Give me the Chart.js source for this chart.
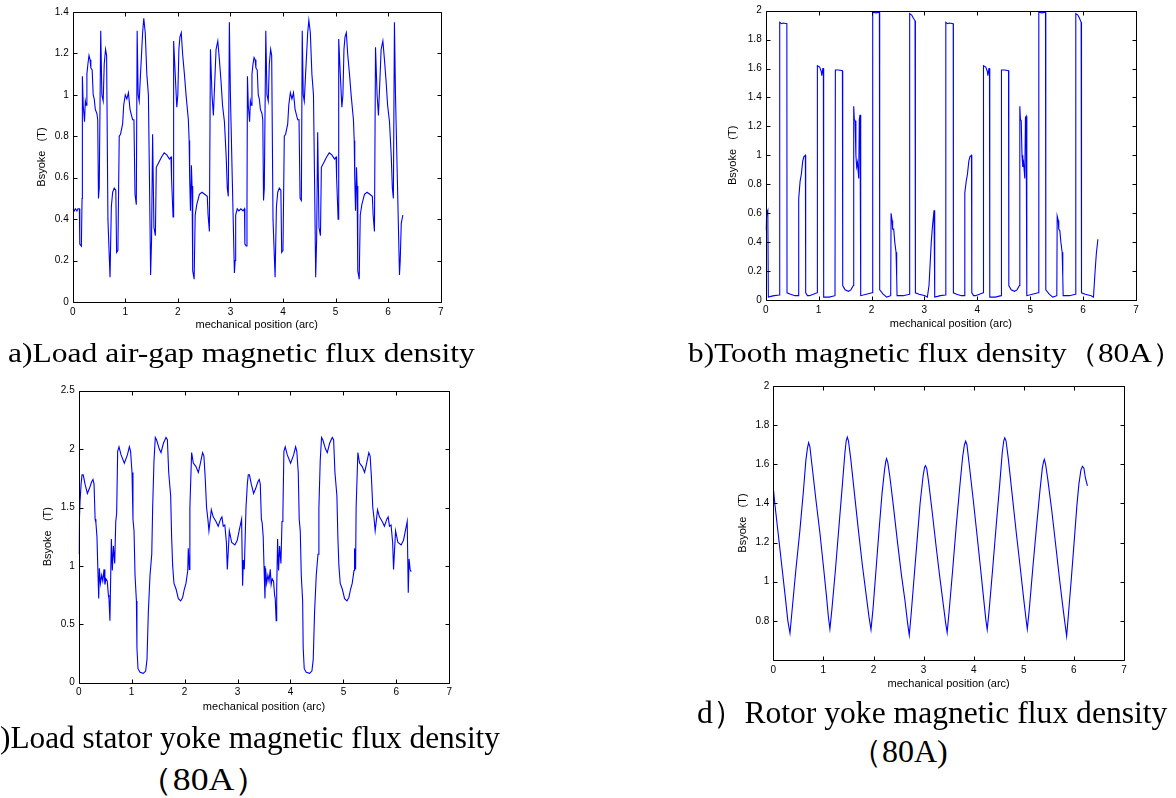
<!DOCTYPE html>
<html>
<head>
<meta charset="utf-8">
<script src="https://cdn.jsdelivr.net/npm/chart.js@4.4.1/dist/chart.umd.min.js"></script>
<style>
  html, body { margin: 0; padding: 0; background: #fff; width: 1176px; height: 798px; overflow: hidden; position: relative; }
  canvas { position: absolute; }
  .cap { position: absolute; white-space: nowrap; font-family: "Liberation Serif", "Times New Roman", serif; color: #000; transform-origin: 0 0; }
  .pre { position: absolute; right: 100%; top: 0; }
</style>
</head>
<body>
<canvas id="chartA" width="460" height="340" style="left:0;top:0"></canvas>
<canvas id="chartB" width="456" height="340" style="left:720px;top:0"></canvas>
<canvas id="chartC" width="470" height="350" style="left:0;top:370px"></canvas>
<canvas id="chartD" width="456" height="330" style="left:720px;top:370px"></canvas>

<div class="cap" data-l="8" data-r="475" data-b="363" data-f="27">a)Load air-gap magnetic flux density</div>
<div class="cap" data-l="688" data-r="1183" data-b="363" data-f="27">b)Tooth magnetic flux density（80A）</div>
<div class="cap" data-l="0" data-r="500" data-b="748" data-f="32"><span class="pre">c</span>)Load stator yoke magnetic flux density</div>
<div class="cap" data-l="137" data-r="270" data-b="790" data-f="32">（80A）</div>
<div class="cap" data-l="697" data-r="1167" data-b="723" data-f="32">d）Rotor yoke magnetic flux density</div>
<div class="cap" data-l="850" data-r="948" data-b="762" data-f="32">（80A)</div>

<script>
// ---- 数据 ----
const xTitle = 'mechanical position (arc)';
const yTitle = 'Bsyoke   (T)';
const xTicks = [0, 1, 2, 3, 4, 5, 6, 7];

// a) 负载气隙磁密
const airGapTicks = [0, 0.2, 0.4, 0.6, 0.8, 1, 1.2, 1.4];
const airGap = [
  [0,0.45],[0.03,0.44],[0.05,0.45],[0.08,0.44],[0.1,0.45],[0.127,0.45],[0.135,0.28],[0.165,0.27],[0.178,0.5],[0.184,1.09],
  [0.2,0.95],[0.225,0.87],[0.24,0.97],[0.255,0.95],[0.27,1.1],[0.29,1.15],[0.31,1.19],[0.33,1.17],[0.345,1.13],[0.37,1.12],
  [0.39,1.0],[0.41,0.98],[0.43,0.93],[0.46,0.91],[0.476,0.88],[0.49,0.5],[0.505,0.55],[0.533,1.31],[0.555,1.0],[0.58,0.97],
  [0.6,1.15],[0.625,1.22],[0.645,1.19],[0.67,0.4],[0.71,0.12],[0.735,0.46],[0.76,0.53],[0.79,0.55],[0.82,0.54],[0.835,0.24],
  [0.86,0.25],[0.885,0.8],[0.91,0.81],[0.95,0.86],[0.97,0.95],[1.0,1.0],[1.03,0.98],[1.06,1.01],[1.09,0.93],[1.12,0.9],
  [1.14,0.88],[1.165,0.88],[1.185,0.52],[1.21,0.47],[1.226,1.31],[1.245,1.0],[1.265,0.97],[1.29,1.1],[1.33,1.3],[1.352,1.37],
  [1.38,1.3],[1.41,1.1],[1.44,1.0],[1.46,0.6],[1.482,0.13],[1.5,0.3],[1.52,0.81],[1.545,0.36],[1.573,0.32],[1.59,0.65],
  [1.63,0.67],[1.69,0.7],[1.74,0.72],[1.79,0.71],[1.84,0.69],[1.87,0.7],[1.88,0.6],[1.909,0.41],[1.92,1.26],[1.95,1.1],
  [1.98,0.94],[2.0,1.0],[2.02,1.22],[2.04,1.28],[2.065,1.3],[2.09,1.2],[2.125,1.1],[2.156,1.0],[2.2,0.88],[2.215,0.78],
  [2.225,0.6],[2.24,0.44],[2.258,0.66],[2.27,0.56],[2.283,0.15],[2.31,0.11],[2.33,0.42],[2.36,0.47],[2.41,0.52],[2.46,0.53],
  [2.51,0.52],[2.56,0.51],[2.575,0.42],[2.6,0.34],[2.62,1.22],[2.65,1.0],[2.676,0.9],[2.7,1.05],[2.727,1.22],[2.76,1.26],
  [2.79,1.17],[2.82,1.07],[2.85,0.95],[2.886,0.87],[2.92,0.7],[2.94,0.55],[2.96,0.51],[2.98,1.35],[3.0,1.0],[3.035,0.6],
  [3.076,0.14],[3.09,0.2],[3.1,0.42],[3.13,0.45],[3.16,0.44],[3.2,0.45],[3.24,0.44],[3.268,0.45],
  [3.275,0.28],[3.3,0.27],[3.315,0.45],[3.324,1.09],[3.34,0.95],[3.365,0.87],[3.38,0.97],[3.395,0.95],[3.41,1.1],[3.43,1.15],
  [3.45,1.18],[3.47,1.17],[3.485,1.13],[3.51,1.12],[3.53,1.0],[3.55,0.98],[3.57,0.93],[3.6,0.91],[3.616,0.88],[3.63,0.49],
  [3.645,0.55],[3.673,1.31],[3.695,1.0],[3.72,0.97],[3.74,1.15],[3.765,1.22],[3.785,1.19],[3.81,0.4],[3.85,0.12],[3.875,0.46],
  [3.9,0.53],[3.93,0.55],[3.96,0.54],[3.975,0.24],[4.0,0.25],[4.025,0.8],[4.05,0.81],[4.09,0.86],[4.11,0.95],[4.14,1.01],
  [4.17,0.98],[4.2,1.01],[4.23,0.93],[4.26,0.9],[4.28,0.88],[4.305,0.88],[4.325,0.5],[4.35,0.49],[4.366,1.31],[4.385,1.0],
  [4.405,0.97],[4.43,1.1],[4.47,1.3],[4.492,1.36],[4.52,1.3],[4.55,1.1],[4.58,1.0],[4.6,0.6],[4.622,0.12],[4.64,0.3],
  [4.66,0.82],[4.685,0.36],[4.713,0.32],[4.73,0.65],[4.77,0.67],[4.83,0.7],[4.88,0.72],[4.93,0.71],[4.98,0.69],[5.01,0.7],
  [5.02,0.6],[5.049,0.4],[5.06,1.27],[5.09,1.1],[5.12,0.94],[5.14,1.0],[5.16,1.22],[5.18,1.28],[5.205,1.3],[5.23,1.2],
  [5.265,1.1],[5.296,1.0],[5.34,0.88],[5.355,0.78],[5.365,0.6],[5.38,0.44],[5.398,0.65],[5.41,0.56],[5.423,0.15],[5.45,0.11],
  [5.47,0.42],[5.5,0.47],[5.55,0.52],[5.6,0.53],[5.65,0.52],[5.7,0.51],[5.715,0.42],[5.74,0.34],[5.76,1.23],[5.79,1.0],
  [5.816,0.9],[5.84,1.05],[5.867,1.22],[5.9,1.26],[5.93,1.17],[5.96,1.07],[5.99,0.95],[6.026,0.87],[6.06,0.7],[6.08,0.55],
  [6.1,0.5],[6.12,1.35],[6.14,1.0],[6.175,0.6],[6.216,0.13],[6.23,0.2],[6.25,0.38],[6.28,0.42]
];

// b) 齿部磁密（80A）
const toothTicks = [0, 0.2, 0.4, 0.6, 0.8, 1, 1.2, 1.4, 1.6, 1.8, 2];
const tooth = [
  [0,0.48],[0.02,0.6],[0.04,0.62],[0.05,0.02],[0.1,0.025],[0.16,0.03],[0.26,0.035],[0.265,1.92],[0.3,1.91],[0.33,1.915],
  [0.4,1.91],[0.403,0.05],[0.47,0.04],[0.555,0.03],[0.62,0.03],[0.624,0.7],[0.65,0.82],[0.674,0.87],[0.7,0.96],[0.72,0.99],
  [0.75,1.0],[0.756,0.05],[0.79,0.03],[0.825,0.03],[0.9,0.04],[0.97,0.05],[0.977,1.62],[1.02,1.61],[1.05,1.58],[1.06,1.55],
  [1.08,1.6],[1.09,1.6],[1.096,0.02],[1.2,0.02],[1.31,0.03],[1.317,1.59],[1.38,1.59],[1.45,1.585],[1.456,0.1],[1.5,0.07],
  [1.563,0.06],[1.61,0.07],[1.657,0.1],[1.664,1.34],[1.675,1.25],[1.69,1.24],[1.705,1.0],[1.72,0.92],[1.735,0.95],[1.75,0.88],
  [1.758,0.84],[1.77,1.25],[1.783,1.28],[1.796,0.03],[1.9,0.04],[2.01,0.05],[2.023,1.99],[2.08,1.985],[2.149,1.99],[2.155,0.07],
  [2.22,0.04],[2.287,0.02],[2.363,0.03],[2.37,0.6],[2.39,0.55],[2.4,0.49],[2.42,0.49],[2.44,0.4],[2.464,0.33],[2.476,0.16],
  [2.483,0.03],[2.6,0.03],[2.716,0.04],[2.722,1.98],[2.76,1.97],[2.79,1.95],[2.823,1.93],[2.83,0.05],[2.9,0.04],[3.012,0.03],
  [3.056,0.02],[3.087,0.1],[3.13,0.4],[3.15,0.5],[3.182,0.62],[3.195,0.02],[3.25,0.025],[3.3,0.03],[3.4,0.035],[3.405,1.92],
  [3.44,1.91],[3.47,1.915],[3.545,1.91],[3.548,0.05],[3.61,0.04],[3.7,0.03],[3.76,0.03],[3.764,0.74],[3.79,0.82],[3.814,0.87],
  [3.84,0.96],[3.86,0.99],[3.89,1.0],[3.896,0.05],[3.93,0.03],[3.965,0.03],[4.04,0.04],[4.11,0.05],[4.117,1.62],[4.16,1.61],
  [4.19,1.58],[4.2,1.55],[4.22,1.6],[4.23,1.6],[4.236,0.02],[4.34,0.02],[4.45,0.03],[4.457,1.59],[4.52,1.59],[4.59,1.585],
  [4.596,0.1],[4.64,0.07],[4.703,0.06],[4.75,0.07],[4.797,0.1],[4.804,1.34],[4.815,1.25],[4.83,1.24],[4.845,1.0],[4.86,0.92],
  [4.875,0.95],[4.89,0.88],[4.898,0.84],[4.91,1.26],[4.923,1.27],[4.936,0.03],[5.04,0.04],[5.15,0.05],[5.163,1.99],[5.22,1.985],
  [5.289,1.99],[5.295,0.07],[5.36,0.04],[5.427,0.02],[5.503,0.03],[5.51,0.58],[5.53,0.55],[5.54,0.49],[5.56,0.48],[5.58,0.4],
  [5.604,0.33],[5.616,0.16],[5.623,0.03],[5.74,0.03],[5.856,0.04],[5.862,1.98],[5.9,1.97],[5.93,1.95],[5.963,1.92],[5.97,0.05],
  [6.04,0.04],[6.152,0.03],[6.196,0.02],[6.227,0.2],[6.25,0.32],[6.28,0.42]
];

// c) 负载定子轭磁密（80A）
const statorTicks = [0, 0.5, 1, 1.5, 2, 2.5];
const stator = [
  [0,1.1],[0.01,1.35],[0.025,1.55],[0.045,1.7],[0.063,1.78],[0.085,1.78],[0.12,1.7],[0.164,1.62],[0.2,1.66],[0.245,1.72],
  [0.27,1.74],[0.29,1.7],[0.31,1.4],[0.325,1.37],[0.345,1.25],[0.36,1.0],[0.378,0.72],[0.39,0.98],[0.41,0.85],[0.434,0.92],
  [0.455,0.87],[0.478,0.97],[0.495,0.84],[0.515,0.89],[0.54,0.87],[0.56,0.75],[0.572,0.72],[0.59,0.53],[0.6,0.8],[0.617,1.23],
  [0.635,0.96],[0.655,1.17],[0.68,1.02],[0.7,1.38],[0.717,1.45],[0.736,1.98],[0.761,2.02],[0.8,1.95],[0.862,1.88],[0.92,1.95],
  [0.957,2.02],[0.98,1.98],[1.007,1.8],[1.025,1.4],[1.045,1.3],[1.064,0.92],[1.09,0.7],[1.1,0.3],[1.12,0.12],[1.158,0.09],
  [1.22,0.08],[1.265,0.1],[1.29,0.2],[1.315,0.6],[1.347,0.92],[1.38,1.1],[1.397,1.5],[1.422,1.9],[1.447,2.1],[1.47,2.08],
  [1.523,2.0],[1.555,1.97],[1.6,2.05],[1.649,2.1],[1.675,2.08],[1.7,1.8],[1.737,1.6],[1.755,1.25],[1.775,1.0],[1.8,0.85],
  [1.84,0.8],[1.882,0.72],[1.926,0.7],[1.963,0.73],[1.995,0.8],[2.026,0.85],[2.06,0.96],[2.07,1.15],[2.09,0.97],[2.1,1.5],
  [2.133,1.97],[2.165,1.88],[2.215,1.85],[2.26,1.8],[2.29,1.86],[2.34,1.97],[2.365,1.94],[2.39,1.75],[2.415,1.5],[2.44,1.4],
  [2.46,1.3],[2.505,1.48],[2.54,1.42],[2.593,1.38],[2.635,1.34],[2.68,1.4],[2.705,1.42],[2.73,1.34],[2.76,1.35],[2.79,1.2],
  [2.807,0.97],[2.845,1.3],[2.89,1.2],[2.95,1.18],[2.995,1.22],[3.03,1.3],[3.077,1.4],[3.096,0.83],[3.11,1.05],[3.128,0.97],
  [3.16,1.5],[3.185,1.7],[3.203,1.78],[3.225,1.78],[3.26,1.7],[3.304,1.62],[3.34,1.66],[3.385,1.72],[3.41,1.74],[3.43,1.7],
  [3.45,1.4],[3.465,1.37],[3.485,1.25],[3.5,1.0],[3.518,0.72],[3.53,0.98],[3.55,0.85],[3.574,0.92],[3.595,0.87],[3.618,0.97],
  [3.635,0.84],[3.655,0.89],[3.68,0.87],[3.7,0.75],[3.712,0.72],[3.73,0.53],[3.74,0.8],[3.757,1.23],[3.775,0.96],[3.795,1.17],
  [3.82,1.02],[3.84,1.38],[3.857,1.45],[3.876,1.98],[3.901,2.02],[3.94,1.95],[4.002,1.88],[4.06,1.95],[4.097,2.02],[4.12,1.98],
  [4.147,1.8],[4.165,1.4],[4.185,1.3],[4.204,0.92],[4.23,0.7],[4.24,0.3],[4.26,0.12],[4.298,0.09],[4.36,0.08],[4.405,0.1],
  [4.43,0.2],[4.455,0.6],[4.487,0.92],[4.52,1.1],[4.537,1.5],[4.562,1.9],[4.587,2.1],[4.61,2.08],[4.663,2.0],[4.695,1.97],
  [4.74,2.05],[4.789,2.1],[4.815,2.08],[4.84,1.8],[4.877,1.6],[4.895,1.25],[4.915,1.0],[4.94,0.85],[4.98,0.8],[5.022,0.72],
  [5.066,0.7],[5.103,0.73],[5.135,0.8],[5.166,0.85],[5.2,0.96],[5.21,1.15],[5.23,0.97],[5.24,1.5],[5.273,1.97],[5.305,1.88],
  [5.355,1.85],[5.4,1.8],[5.43,1.86],[5.48,1.97],[5.505,1.94],[5.53,1.75],[5.555,1.5],[5.58,1.4],[5.6,1.3],[5.645,1.48],
  [5.68,1.42],[5.733,1.38],[5.775,1.34],[5.82,1.4],[5.845,1.42],[5.87,1.34],[5.9,1.35],[5.93,1.2],[5.947,0.97],[5.985,1.3],
  [6.03,1.2],[6.09,1.18],[6.135,1.22],[6.17,1.3],[6.205,1.38],[6.225,0.77],[6.24,1.06],[6.26,0.97],[6.28,0.95]
];

// d) 转子轭磁密（80A）
const rotorTicks = [0.8, 1, 1.2, 1.4, 1.6, 1.8, 2];
const rotor = [
  [0,1.48],[0.03,1.4],[0.1,1.24],[0.17,1.08],[0.24,0.92],[0.29,0.8],[0.333,0.737],
  [0.37,0.84],[0.45,1.06],[0.53,1.26],[0.6,1.46],[0.65,1.62],[0.68,1.68],[0.705,1.71],[0.73,1.69],[0.77,1.6],
  [0.85,1.42],[0.93,1.25],[1.0,1.08],[1.06,0.93],[1.1,0.82],[1.13,0.758],
  [1.17,0.86],[1.24,1.06],[1.31,1.28],[1.38,1.5],[1.43,1.66],[1.455,1.72],[1.477,1.739],[1.5,1.72],[1.545,1.63],
  [1.62,1.45],[1.7,1.26],[1.78,1.08],[1.85,0.94],[1.91,0.82],[1.95,0.755],
  [1.99,0.86],[2.05,1.06],[2.11,1.26],[2.17,1.45],[2.22,1.57],[2.245,1.615],[2.26,1.629],[2.285,1.61],[2.33,1.53],
  [2.4,1.38],[2.48,1.2],[2.56,1.03],[2.63,0.9],[2.68,0.79],[2.714,0.727],
  [2.75,0.83],[2.81,1.02],[2.87,1.21],[2.93,1.4],[2.99,1.54],[3.02,1.585],[3.04,1.593],[3.065,1.575],[3.1,1.51],
  [3.17,1.36],[3.25,1.18],[3.32,1.03],[3.39,0.89],[3.44,0.79],[3.47,0.74],
  [3.51,0.85],[3.58,1.06],[3.65,1.28],[3.72,1.48],[3.78,1.64],[3.815,1.7],[3.84,1.718],[3.865,1.7],[3.91,1.6],
  [3.99,1.42],[4.07,1.23],[4.14,1.06],[4.2,0.91],[4.24,0.81],[4.27,0.755],
  [4.31,0.86],[4.38,1.07],[4.45,1.29],[4.52,1.5],[4.57,1.66],[4.6,1.72],[4.62,1.735],[4.645,1.72],[4.69,1.63],
  [4.77,1.44],[4.85,1.25],[4.93,1.07],[4.99,0.93],[5.04,0.82],[5.07,0.758],
  [5.11,0.86],[5.18,1.07],[5.25,1.27],[5.32,1.46],[5.37,1.58],[5.395,1.615],[5.41,1.625],[5.435,1.6],[5.48,1.52],
  [5.56,1.36],[5.64,1.18],[5.71,1.02],[5.78,0.87],[5.83,0.77],[5.855,0.722],
  [5.89,0.83],[5.95,1.02],[6.01,1.22],[6.06,1.39],[6.1,1.5],[6.14,1.57],[6.17,1.59],[6.2,1.58],[6.23,1.53],[6.27,1.49]
];

// ---- 图注文字：按参考图宽度拉伸 ----
document.querySelectorAll('.cap').forEach(el => {
  const f = +el.dataset.f;
  el.style.fontSize = f + 'px';
  el.style.lineHeight = f + 'px';
  el.style.left = el.dataset.l + 'px';
  el.style.top = (el.dataset.b - 0.8375 * f) + 'px';
  const w = el.offsetWidth;
  el.style.transform = 'scaleX(' + ((el.dataset.r - el.dataset.l) / w) + ')';
});

// MATLAB 风格的外框和朝内的刻度
const matlabBox = {
  id: 'matlabBox',
  afterDraw(chart) {
    const {ctx, chartArea: a, scales: {x, y}} = chart;
    const L = Math.round(a.left) + 0.5, R = Math.round(a.right) + 0.5;
    const T = Math.round(a.top) + 0.5, B = Math.round(a.bottom) + 0.5;
    ctx.save();
    ctx.strokeStyle = '#000';
    ctx.lineWidth = 1;
    ctx.beginPath();
    x.ticks.forEach(t => {
      const px = Math.round(x.getPixelForValue(t.value)) + 0.5;
      ctx.moveTo(px, B); ctx.lineTo(px, B - 4);
      ctx.moveTo(px, T); ctx.lineTo(px, T + 4);
    });
    y.ticks.forEach(t => {
      const py = Math.round(y.getPixelForValue(t.value)) + 0.5;
      ctx.moveTo(L, py); ctx.lineTo(L + 4, py);
      ctx.moveTo(R, py); ctx.lineTo(R - 4, py);
    });
    ctx.rect(L, T, R - L, B - T);
    ctx.stroke();
    ctx.restore();
  }
};

Chart.defaults.font.family = '"Liberation Sans", Arial, sans-serif';
Chart.defaults.color = '#000';

function makePanel(id, pts, yTicks, yMin, yMax, lay) {
  new Chart(document.getElementById(id), {
    type: 'scatter',
    data: {
      datasets: [{
        data: pts.map(p => ({x: p[0], y: p[1]})),
        showLine: true,
        borderColor: '#0000ff',
        borderWidth: 1.1,
        pointRadius: 0,
        tension: 0
      }]
    },
    options: {
      responsive: false,
      animation: false,
      devicePixelRatio: 1,
      layout: { padding: { left: 0, top: lay.top, right: lay.right, bottom: 0 } },
      plugins: { legend: { display: false }, tooltip: { enabled: false } },
      scales: {
        x: {
          type: 'linear', min: 0, max: 7,
          grid: { display: false, drawTicks: false, tickLength: 0 }, border: { display: false },
          afterBuildTicks: s => { s.ticks = xTicks.map(v => ({value: v})); },
          afterFit: s => { s.height = lay.xH; },
          ticks: { padding: 4, font: { size: 10 }, maxRotation: 0, callback: v => String(v) },
          title: { display: true, text: xTitle, font: { size: 11 }, padding: { top: 0, bottom: lay.xTitlePad } }
        },
        y: {
          type: 'linear', min: yMin, max: yMax,
          grid: { display: false, drawTicks: false, tickLength: 0 }, border: { display: false },
          afterBuildTicks: s => { s.ticks = yTicks.map(v => ({value: v})); },
          afterFit: s => { s.width = lay.yW; },
          ticks: { padding: 4, font: { size: 10 }, callback: v => String(v) },
          title: { display: true, text: yTitle, font: { size: 11 }, padding: { top: lay.yTitlePad, bottom: 0 } }
        }
      }
    },
    plugins: [matlabBox]
  });
}

makePanel('chartA', airGap, airGapTicks, 0, 1.4, { top: 12, yW: 72.7, right: 19.3, xH: 38, yTitlePad: 35.1, xTitlePad: 8.4 });
makePanel('chartB', tooth, toothTicks, 0, 2, { top: 10.7, yW: 45.7, right: 40, xH: 40, yTitlePad: 6.4, xTitlePad: 9.1 });
makePanel('chartC', stator, statorTicks, 0, 2.5, { top: 20.7, yW: 78.7, right: 20.7, xH: 37.3, yTitlePad: 41.1, xTitlePad: 6.7 });
makePanel('chartD', rotor, rotorTicks, 0.6, 2, { top: 16, yW: 53.3, right: 52, xH: 40, yTitlePad: 16.1, xTitlePad: 9.4 });
</script>
</body>
</html>
